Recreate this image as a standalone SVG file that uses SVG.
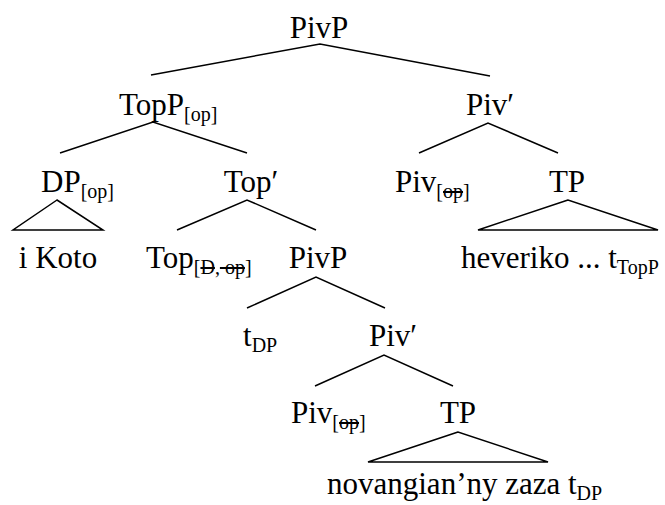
<svg xmlns="http://www.w3.org/2000/svg" width="665" height="505" viewBox="0 0 665 505">
  <style>
    text { font-family: 'Liberation Serif', 'DejaVu Serif', serif; font-size: 31px; fill: #000; }
    .mid { text-anchor: middle; }
    .sub { font-size: 20px; }
    .del { text-decoration: line-through; }
    .edge { stroke: #000; stroke-width: 1.5; fill: none; }
  </style>
  <rect width="665" height="505" fill="#fff"/>

  <!-- branches and triangles -->
  <g id="connectors">
    <polyline class="edge" points="151,75 320,44 490,76"/>
    <polyline class="edge" points="60,153 153,122 247,153"/>
    <polyline class="edge" points="419,153 488,123 558,153"/>
    <polygon class="edge" points="57,200 13,230 103,230"/>
    <polyline class="edge" points="177,230 247,200 316,230"/>
    <polygon class="edge" points="568,200 478,230 658,230"/>
    <polyline class="edge" points="247,308 316,277 385,308"/>
    <polyline class="edge" points="315,386 384,355 453,386"/>
    <polygon class="edge" points="458,432 368,462 548,462"/>
  </g>

  <g font-family="Liberation Serif, DejaVu Serif, serif">
    <g id="pivp-root"><text class="mid" x="319" y="38">PivP</text></g>
    <g id="topp"><text x="119" y="115">TopP<tspan class="sub" dy="6">[op]</tspan></text></g>
    <g id="pivbar-1"><text class="mid" x="490" y="115">Piv′</text></g>
    <g id="dp"><text x="41" y="192">DP<tspan class="sub" dy="6">[op]</tspan></text></g>
    <g id="topbar"><text class="mid" x="251" y="192">Top′</text></g>
    <g id="piv-1"><text x="395" y="192">Piv<tspan class="sub" dy="6">[<tspan class="del">op</tspan>]</tspan></text></g>
    <g id="tp-1"><text class="mid" x="567" y="192">TP</text></g>
    <g id="ikoto"><text class="mid" x="58" y="268">i Koto</text></g>
    <g id="top-head"><text x="146" y="268">Top<tspan class="sub" dy="6">[<tspan class="del">D</tspan>,<tspan class="del"> op</tspan>]</tspan></text></g>
    <g id="pivp-2"><text class="mid" x="318" y="268">PivP</text></g>
    <g id="heveriko"><text x="461" y="268">heveriko ... t<tspan class="sub" dy="6">TopP</tspan></text></g>
    <g id="tdp"><text x="243" y="346">t<tspan class="sub" dy="6">DP</tspan></text></g>
    <g id="pivbar-2"><text class="mid" x="393" y="346">Piv′</text></g>
    <g id="piv-2"><text x="291" y="423">Piv<tspan class="sub" dy="6">[<tspan class="del">op</tspan>]</tspan></text></g>
    <g id="tp-2"><text class="mid" x="458" y="423">TP</text></g>
    <g id="novangian"><text x="327" y="494">novangian’ny zaza t<tspan class="sub" dy="6">DP</tspan></text></g>
  </g>
</svg>
